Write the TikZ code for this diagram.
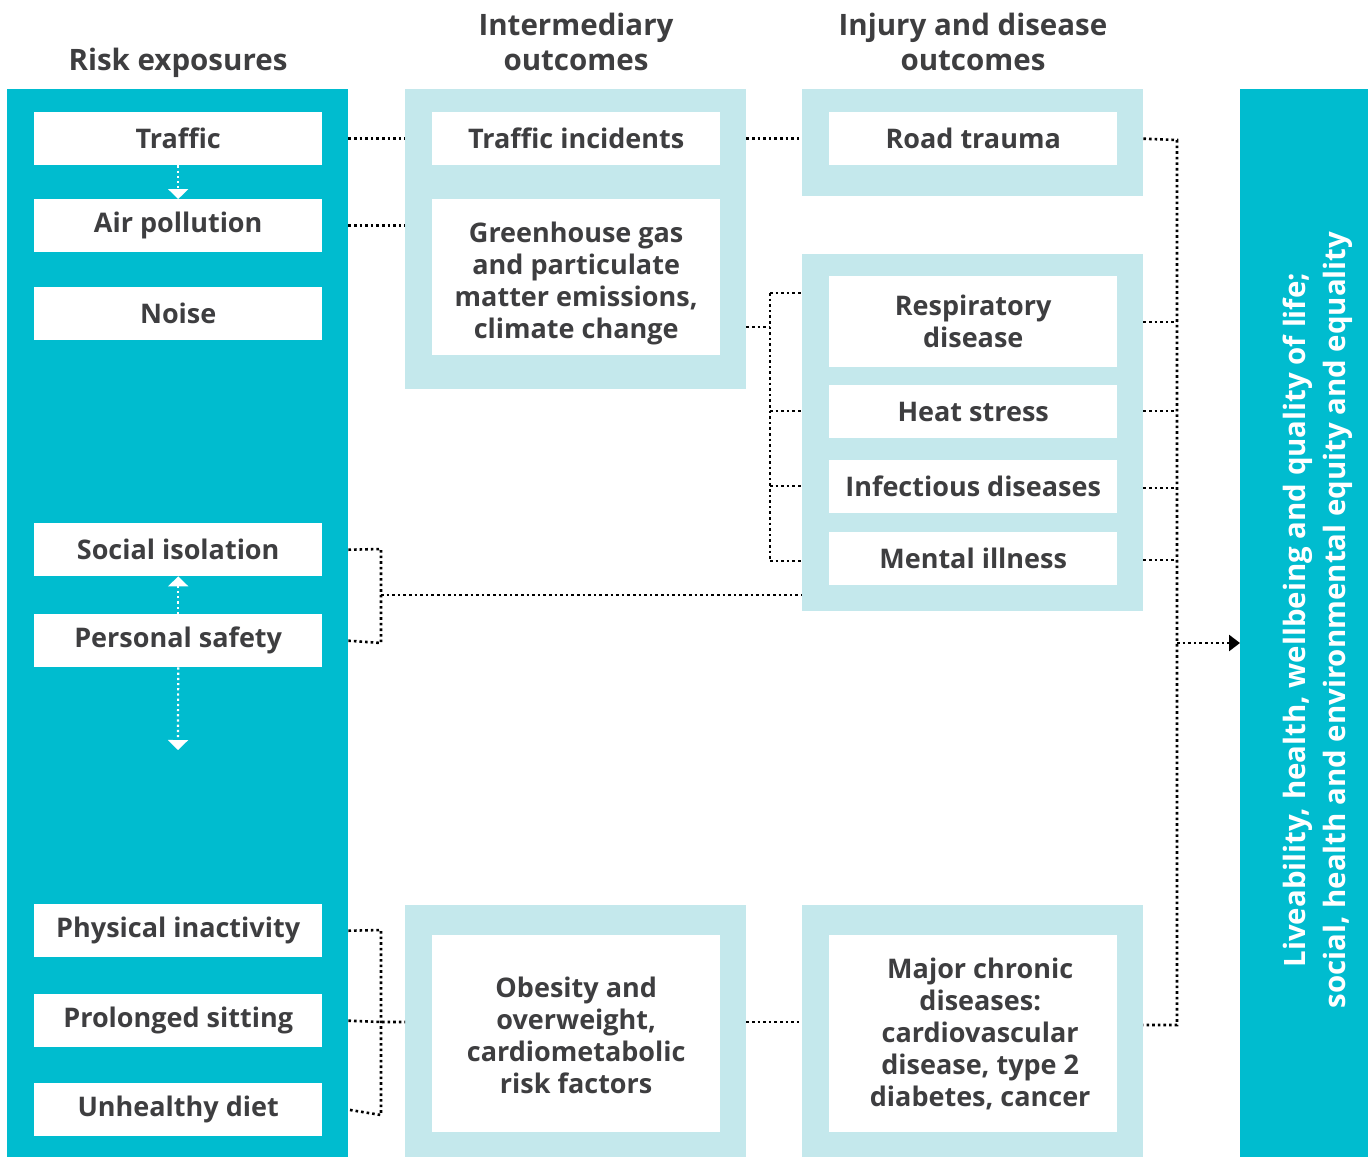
\documentclass[tikz,border=0pt]{standalone}
\usepackage{fontspec}
\setmainfont{Open Sans}
\newcommand\wtsel{\bfseries}
\usetikzlibrary{arrows.meta}
\definecolor{teal1}{RGB}{0,188,207}
\definecolor{light1}{RGB}{196,232,236}
\definecolor{txt}{RGB}{62,62,64}
\tikzset{
  panel/.style={fill=teal1, anchor=north west, inner sep=0pt},
  lpanel/.style={fill=light1, anchor=north west, inner sep=0pt},
  boxfont/.style={font=\wtsel\fontsize{27}{32}\selectfont},
  wbox/.style={fill=white, anchor=north west, inner sep=0pt, text=txt, align=center,
    minimum width=288pt, boxfont},
  btext/.style={text=txt, align=center, inner sep=0pt, boxfont},
  head/.style={text=txt, align=center, inner sep=0pt, font=\wtsel\fontsize{29.5}{35}\selectfont},
  dots/.style={draw=black, line width=2.6pt, dash pattern=on 2.6pt off 3pt},
  wdots/.style={draw=white, line width=2.2pt, dash pattern=on 2.2pt off 3pt,
    -{Triangle[width=20pt,length=10pt]}},
}
\begin{document}
\begin{tikzpicture}[x=1pt,y=-1pt]
\useasboundingbox (0,0) rectangle (1368,1157);
% headers
\node[head] (h1) at (178,63) {Risk exposures};
\node[head] (h2) at (576,42) {Intermediary\\outcomes};
\node[head] (h3) at (973,42) {Injury and disease\\outcomes};
% panels
\node[panel, minimum width=341pt, minimum height=1068pt] (risk) at (7,89) {};
\node[lpanel, minimum width=341pt, minimum height=300pt] (midtop) at (405,89) {};
\node[lpanel, minimum width=341pt, minimum height=107pt] (roadp) at (802,89) {};
\node[lpanel, minimum width=341pt, minimum height=357pt] (disp) at (802,254) {};
\node[lpanel, minimum width=341pt, minimum height=252pt] (midbot) at (405,905) {};
\node[lpanel, minimum width=341pt, minimum height=252pt] (chronp) at (802,905) {};
\node[panel, minimum width=128pt, minimum height=1068pt] (final) at (1240,89) {};
% risk exposures
\node[wbox, minimum height=53pt] (traffic) at (34,112) {Traffic};
\node[wbox, minimum height=53pt] (air) at (34,199) {Air pollution};
\node[wbox, minimum height=53pt] (noise) at (34,287) {Noise};
\node[wbox, minimum height=53pt] (social) at (34,523) {Social isolation};
\node[wbox, minimum height=53pt] (safety) at (34,614) {Personal safety};
\node[wbox, minimum height=53pt] (phys) at (34,904) {Physical inactivity};
\node[wbox, minimum height=53pt] (sit) at (34,994) {Prolonged sitting};
\node[wbox, minimum height=53pt] (diet) at (34,1083) {Unhealthy diet};
% intermediary
\node[wbox, minimum height=53pt] (trinc) at (432,112) {Traffic incidents};
\node[wbox, minimum height=156pt] (ghg) at (432,199) {};
\node[btext] (ghgtext) at ([yshift=-6pt]ghg.center) {Greenhouse gas\\and particulate\\matter emissions,\\climate change};
\node[wbox, minimum height=197pt] (obes) at (432,935) {};
\node[btext] (obestext) at ([yshift=-2pt]obes.center) {Obesity and\\overweight,\\cardiometabolic\\risk factors};
% outcomes
\node[wbox, minimum height=53pt] (road) at (829,112) {Road trauma};
\node[wbox, minimum height=91pt] (resp) at (829,276) {Respiratory\\disease};
\node[wbox, minimum height=53pt] (heat) at (829,385) {Heat stress};
\node[wbox, minimum height=53pt] (infect) at (829,460) {Infectious diseases};
\node[wbox, minimum height=53pt] (mental) at (829,532) {Mental illness};
\node[wbox, minimum height=197pt] (chron) at (829,935) {};
\node[btext] (chrontext) at ([xshift=7pt]chron.center) {Major chronic\\diseases:\\cardiovascular\\disease, type 2\\diabetes, cancer};
% final outcome
\node[rotate=90, text=white, align=center, inner sep=0pt,
  font=\wtsel\fontsize{29.4}{40}\selectfont] (finaltext) at (1318,620)
  {Liveability, health, wellbeing and quality of life;\\social, health and environmental equity and equality};
% white arrows inside risk panel
\coordinate (psend) at (178,750);
\draw[wdots] (traffic.south) -- (air.north);
\draw[wdots] (safety.north) -- (social.south);
\draw[wdots] (safety.south) -- (psend);
% connectors
\draw[dots] (traffic.east -| risk.east) -- (traffic.east -| midtop.west);
\draw[dots] (air.east -| risk.east) -- (air.east -| midtop.west);
\draw[dots] (trinc.east -| midtop.east) -- (trinc.east -| roadp.west);
% greenhouse to diseases
\coordinate (gj) at (770,327);
\draw[dots] (midtop.east |- gj) -- (gj);
\draw[dots] (770,293) -- (770,561);
\draw[dots] (770,293) -- (disp.west |- 0,293);
\draw[dots] (770,411) -- (disp.west |- 0,411);
\draw[dots] (770,486) -- (disp.west |- 0,486);
\draw[dots] (770,561) -- (disp.west |- 0,561);
% social / safety
\coordinate (sj) at (381,595);
\draw[dots] (social.east -| risk.east) -- (381,549) -- (381,643) -- (safety.east -| risk.east);
\draw[dots] (sj) -- (sj -| disp.west);
% bottom group
\coordinate (bj) at (381,1022);
\draw[dots] (phys.east -| risk.east) -- (381,930) -- (381,1115) -- (diet.east -| risk.east);
\draw[dots] (sit.east -| risk.east) -- (bj) -- (bj -| midbot.west);
\draw[dots] (midbot.east |- bj) -- (chronp.west |- bj);
% right collector
\draw[dots] (roadp.east |- road.east) -- (1177,140) -- (1177,1025) -- (chronp.east |- 0,1025);
\draw[dots] (disp.east |- 0,322) -- (1177,322);
\draw[dots] (disp.east |- 0,411) -- (1177,411);
\draw[dots] (disp.east |- 0,488) -- (1177,488);
\draw[dots] (disp.east |- 0,560) -- (1177,560);
\coordinate (hub) at (1177,643);
\draw[dots, -{Triangle[width=16pt,length=11pt]}] (hub) -- (hub -| final.west);
\end{tikzpicture}
\end{document}
